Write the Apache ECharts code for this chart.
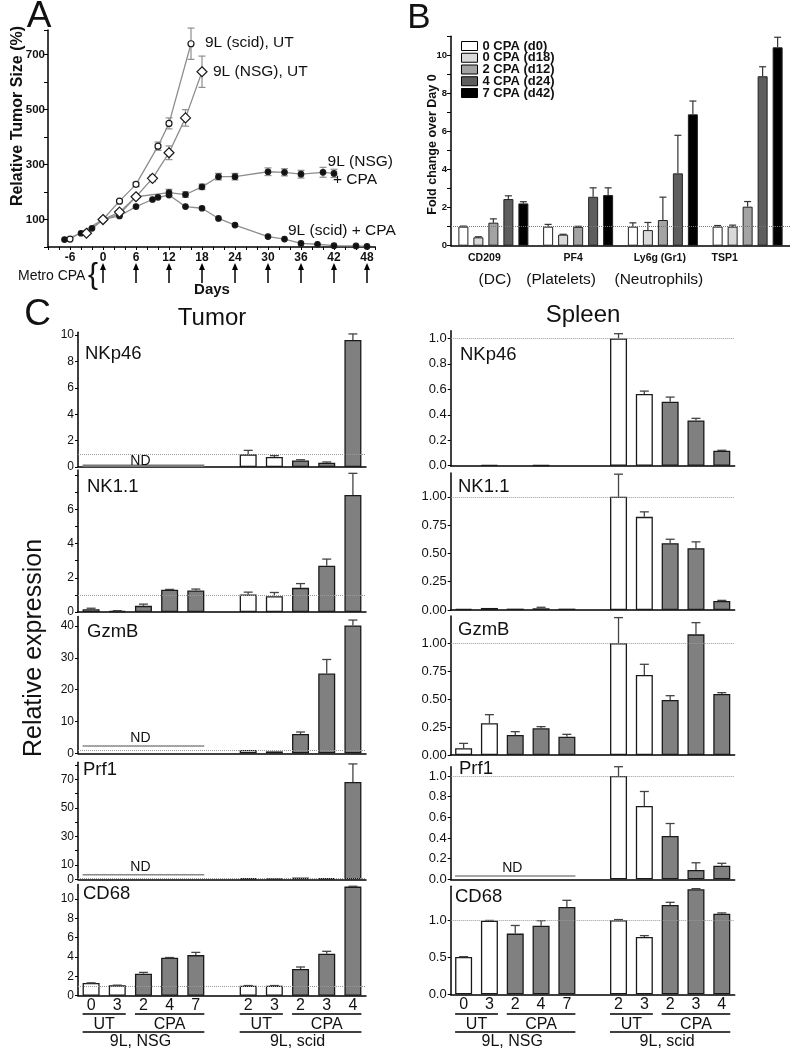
<!DOCTYPE html>
<html><head><meta charset="utf-8">
<script src="https://cdn.jsdelivr.net/npm/echarts@6/dist/echarts.min.js"></script>
<style>html,body{margin:0;padding:0;background:#fff}#c{width:790px;height:1050px}</style>
</head><body><div id="c"></div>
<script>
// ================= DATA =================
// ---- Panel A : relative tumor size (%) ----
const scidUT_days = [-6, 0, 3, 6, 10, 12, 16];
const scidUT_vals = [29, 100, 167, 228, 367, 450, 740];
const scidUT_err  = [0, 0, 5, 8, 15, 20, 57];
const nsgUT_days = [-3, 0, 3, 6, 9, 12, 15, 18];
const nsgUT_vals = [50, 100, 127, 183, 250, 343, 470, 638];
const nsgUT_err  = [0, 0, 5, 6, 12, 25, 30, 57];
const nsgCPA_days = [0, 3, 6, 12, 15, 18, 21, 24, 30, 33, 36, 40, 42];
const nsgCPA_vals = [100, 120, 183, 198, 191, 219, 256, 256, 274, 272, 265, 272, 268];
const nsgCPA_err  = [0, 0, 0, 12, 10, 10, 12, 12, 14, 13, 14, 18, 15];
const scidCPA_days = [-7, -4, -2, 0, 3, 6, 9, 10, 12, 15, 18, 21, 24, 30, 33, 36, 39, 42, 46, 48];
const scidCPA_vals = [27, 50, 68, 100, 113, 147, 173, 181, 189, 147, 141, 104, 80, 38, 29, 13, 10, 5, 4, 2];
const cpaDoseDays = [0, 6, 12, 18, 24, 30, 36, 42, 48];
const aXTickLabels = [-6, 0, 6, 12, 18, 24, 30, 36, 42, 48];
const aYTickLabels = [100, 300, 500, 700];
const aSeriesLabels = ['9L (scid), UT', '9L (NSG), UT', '9L (NSG)', '+ CPA', '9L (scid) + CPA'];

// ---- Panel B : fold change over day 0 ----
const bCategories = ['CD209', 'PF4', 'Ly6g (Gr1)', 'TSP1'];
const bSubLabels = ['(DC)', '(Platelets)', '(Neutrophils)'];
const bSeriesNames = ['0 CPA (d0)', '0 CPA (d18)', '2 CPA (d12)', '4 CPA (d24)', '7 CPA (d42)'];
const b_d0  = [1.0, 1.0, 1.0, 1.0];
const b_d0_err  = [0.03, 0.12, 0.2, 0.06];
const b_d18 = [0.44, 0.58, 0.82, 1.0];
const b_d18_err = [0.03, 0.02, 0.4, 0.08];
const b_d12 = [1.21, 0.99, 1.35, 2.05];
const b_d12_err = [0.2, 0.03, 1.2, 0.27];
const b_d24 = [2.45, 2.57, 3.8, 8.9];
const b_d24_err = [0.17, 0.47, 2.0, 0.5];
const b_d42 = [2.22, 2.66, 6.9, 10.42];
const b_d42_err = [0.09, 0.38, 0.7, 0.53];
const bYTickLabels = [0, 2, 4, 6, 8, 10];

// ---- Panel C : relative expression ----
const cCategories = ['0', '3', '2', '4', '7', '', '2', '3', '2', '3', '4'];
const cTreatment  = ['UT', 'UT', 'CPA', 'CPA', 'CPA', '', 'UT', 'UT', 'CPA', 'CPA', 'CPA'];
const cGroupLabels = ['UT', 'CPA', 'UT', 'CPA'];
const cStrainLabels = ['9L, NSG', '9L, scid'];
const cGeneNames = ['NKp46', 'NK1.1', 'GzmB', 'Prf1', 'CD68'];
const cTissues = ['Tumor', 'Spleen'];

const tumor_NKp46     = [null, null, null, null, null, null, 0.96, 0.76, 0.5, 0.33, 9.62];
const tumor_NKp46_err = [0, 0, 0, 0, 0, 0, 0.3, 0.1, 0.05, 0.05, 0.46];
const tumor_NK11      = [0.16, 0.06, 0.36, 1.3, 1.26, null, 1.02, 0.92, 1.41, 2.7, 6.84];
const tumor_NK11_err  = [0.06, 0.02, 0.1, 0.02, 0.08, 0, 0.14, 0.22, 0.25, 0.39, 1.26];
const tumor_GzmB      = [null, null, null, null, null, null, 1.05, 0.6, 6.07, 25.1, 40.2];
const tumor_GzmB_err  = [0, 0, 0, 0, 0, 0, 0, 0, 0.63, 4.4, 1.7];
const tumor_Prf1      = [null, null, null, null, null, null, 0.8, 0.5, 1.2, 0.8, 68.2];
const tumor_Prf1_err  = [0, 0, 0, 0, 0, 0, 0, 0, 0, 0, 12.6];
const tumor_CD68      = [1.31, 1.07, 2.28, 3.93, 4.2, null, 1.03, 1.03, 2.76, 4.34, 11.28];
const tumor_CD68_err  = [0.02, 0.02, 0.13, 0.02, 0.28, 0, 0.02, 0.02, 0.21, 0.25, 0.04];

const spleen_NKp46     = [null, 0.006, null, 0.003, null, null, 1.0, 0.563, 0.503, 0.356, 0.118];
const spleen_NKp46_err = [0, 0, 0, 0, 0, 0, 0.037, 0.023, 0.036, 0.016, 0.003];
const spleen_NK11      = [0.009, 0.018, 0.012, 0.015, 0.012, null, 1.0, 0.823, 0.59, 0.546, 0.08];
const spleen_NK11_err  = [0, 0, 0, 0.009, 0, 0, 0.2, 0.044, 0.035, 0.056, 0.005];
const spleen_GzmB      = [0.06, 0.284, 0.179, 0.239, 0.164, null, 1.0, 0.716, 0.493, 1.08, 0.546];
const spleen_GzmB_err  = [0.044, 0.077, 0.03, 0.015, 0.021, 0, 0.23, 0.096, 0.038, 0.105, 0.012];
const spleen_Prf1      = [null, null, null, null, null, null, 1.0, 0.71, 0.42, 0.09, 0.132];
const spleen_Prf1_err  = [0, 0, 0, 0, 0, 0, 0.09, 0.14, 0.12, 0.07, 0.023];
const spleen_CD68      = [0.504, 0.995, 0.82, 0.928, 1.18, null, 1.0, 0.775, 1.207, 1.419, 1.09];
const spleen_CD68_err  = [0.005, 0.003, 0.11, 0.067, 0.09, 0, 0.01, 0.018, 0.036, 0.009, 0.01];

// "ND" (not detected) levels, by [tissue, gene index]
const ndTumorGenes = [0, 2, 3];
const ndTumorLevels = [0.1, 2.3, 3.2];
const ndSpleenGenes = [3];
const ndSpleenLevels = [0.032];

const tumorTicks = [[0, 2, 4, 6, 8, 10], [0, 2, 4, 6], [0, 10, 20, 30, 40], [0, 10, 30, 50, 70], [0, 2, 4, 6, 8, 10]];
const spleenTicks = [[0, 0.2, 0.4, 0.6, 0.8, 1.0], [0, 0.25, 0.5, 0.75, 1.0], [0, 0.25, 0.5, 0.75, 1.0], [0, 0.2, 0.4, 0.6, 0.8, 1.0], [0, 0.5, 1.0]];

// ================= LAYOUT =================
const FONT = "'Liberation Sans', Arial, Helvetica, sans-serif";
const INK = '#111';
const tumorLayout = [
  {zero: 467, ppu: 13.2, max: 10.2, interval: 2, dec: 0},
  {zero: 612, ppu: 17.12, max: 8.3, interval: 1, dec: 0},
  {zero: 753.3, ppu: 3.18, max: 43, interval: 10, dec: 0},
  {zero: 879.3, ppu: 1.428, max: 82, interval: 10, dec: 0},
  {zero: 995.7, ppu: 9.67, max: 11.5, interval: 2, dec: 0}
];
const spleenLayout = [
  {zero: 465.7, ppu: 127.3, max: 1.06, interval: 0.2, dec: 1},
  {zero: 610, ppu: 113.2, max: 1.21, interval: 0.25, dec: 2},
  {zero: 755, ppu: 111.7, max: 1.245, interval: 0.25, dec: 2},
  {zero: 879.3, ppu: 103.3, max: 1.09, interval: 0.2, dec: 1},
  {zero: 994.3, ppu: 74, max: 1.46, interval: 0.5, dec: 1}
];
const tumorData = [[tumor_NKp46, tumor_NKp46_err], [tumor_NK11, tumor_NK11_err], [tumor_GzmB, tumor_GzmB_err], [tumor_Prf1, tumor_Prf1_err], [tumor_CD68, tumor_CD68_err]];
const spleenData = [[spleen_NKp46, spleen_NKp46_err], [spleen_NK11, spleen_NK11_err], [spleen_GzmB, spleen_GzmB_err], [spleen_Prf1, spleen_Prf1_err], [spleen_CD68, spleen_CD68_err]];

const chart = echarts.init(document.getElementById('c'), null, {renderer: 'canvas', width: 790, height: 1050});

const axisLine = {show: true, onZero: false, lineStyle: {color: '#000', width: 1.5}};
const grids = [], xAxes = [], yAxes = [], series = [];

// ---------- Panel A ----------
grids.push({left: 48, top: 30, width: 327.25, height: 217});
xAxes.push({type: 'value', gridIndex: 0, min: -10, max: 49.5, interval: 2,
  axisLine: axisLine, axisTick: {show: true, length: 3, lineStyle: {color: '#000'}},
  splitLine: {show: false},
  axisLabel: {margin: 5, fontSize: 12, fontWeight: 'bold', color: INK, fontFamily: FONT,
    formatter: v => aXTickLabels.indexOf(v) >= 0 ? String(v) : ''}});
yAxes.push({type: 'value', gridIndex: 0, min: 0, max: 790, interval: 100,
  axisLine: axisLine, axisTick: {show: true, length: 4, lineStyle: {color: '#000'}},
  splitLine: {show: false},
  axisLabel: {margin: 3, fontSize: 11.5, fontWeight: 'bold', color: INK, fontFamily: FONT,
    formatter: v => aYTickLabels.indexOf(v) >= 0 ? String(v) : ''}});

function lineSeries(name, days, vals, symbol, size, fill) {
  return {type: 'line', name: name, xAxisIndex: 0, yAxisIndex: 0,
    data: days.map((d, i) => [d, vals[i]]), symbol: symbol, symbolSize: size, showAllSymbol: true,
    lineStyle: {color: '#8e8e8e', width: 1.3}, itemStyle: {color: fill, borderColor: '#1a1a1a', borderWidth: 1.2},
    z: 3, silent: true};
}
series.push(lineSeries('a_scidCPA', scidCPA_days, scidCPA_vals, 'circle', 5.5, '#111'));
series.push(lineSeries('a_nsgCPA', nsgCPA_days, nsgCPA_vals, 'circle', 5.5, '#111'));
series.push(lineSeries('a_scidUT', scidUT_days, scidUT_vals, 'circle', 6, '#fff'));
series.push(lineSeries('a_nsgUT', nsgUT_days, nsgUT_vals, 'diamond', 10, '#fff'));

const aErr = [];
[[scidUT_days, scidUT_vals, scidUT_err], [nsgUT_days, nsgUT_vals, nsgUT_err], [nsgCPA_days, nsgCPA_vals, nsgCPA_err]]
  .forEach(([d, v, e]) => d.forEach((x, i) => { if (e[i] > 0) aErr.push([x, v[i], e[i]]); }));
series.push({type: 'custom', xAxisIndex: 0, yAxisIndex: 0, data: aErr, z: 2, silent: true,
  renderItem: function (params, api) {
    const x = api.value(0), y = api.value(1), e = api.value(2);
    const lo = api.coord([x, y - e]), hi = api.coord([x, y + e]);
    const st = {stroke: '#8e8e8e', lineWidth: 1.2};
    return {type: 'group', children: [
      {type: 'line', shape: {x1: lo[0], y1: lo[1], x2: hi[0], y2: hi[1]}, style: st},
      {type: 'line', shape: {x1: hi[0] - 3.5, y1: hi[1], x2: hi[0] + 3.5, y2: hi[1]}, style: st},
      {type: 'line', shape: {x1: lo[0] - 3.5, y1: lo[1], x2: lo[0] + 3.5, y2: lo[1]}, style: st}
    ]};
  }});

// ---------- Panel B ----------
grids.push({left: 451, top: 36.3, width: 339, height: 209.4});
xAxes.push({type: 'category', gridIndex: 1, data: bCategories, axisLine: axisLine,
  axisTick: {show: false}, axisLabel: {show: false}});
yAxes.push({type: 'value', gridIndex: 1, min: 0, max: 11, interval: 1, axisLine: axisLine,
  axisTick: {show: true, length: 4, lineStyle: {color: '#000'}}, splitLine: {show: false},
  axisLabel: {margin: 4, fontSize: 9.5, fontWeight: 'bold', color: INK, fontFamily: FONT,
    formatter: v => bYTickLabels.indexOf(v) >= 0 ? String(v) : ''}});
const bVals = [b_d0, b_d18, b_d12, b_d24, b_d42];
const bErrs = [b_d0_err, b_d18_err, b_d12_err, b_d24_err, b_d42_err];
const bColors = ['#ffffff', '#d9d9d9', '#a3a3a3', '#5e5e5e', '#000000'];
const B_BAR = 10, B_STEP = 15;
bVals.forEach((vals, s) => {
  const sObj = {type: 'bar', name: bSeriesNames[s], xAxisIndex: 1, yAxisIndex: 1, data: vals,
    barWidth: B_BAR, barGap: '50%', itemStyle: {color: bColors[s], borderColor: '#222', borderWidth: 1}, silent: true};
  if (s === 0) sObj.markLine = {silent: true, symbol: 'none', label: {show: false}, z: 5,
    lineStyle: {type: 'dotted', color: '#777', width: 1}, data: [{yAxis: 1}]};
  series.push(sObj);
});
const bErrData = [];
bVals.forEach((vals, s) => vals.forEach((v, c) => bErrData.push([c, v, bErrs[s][c], s])));
series.push({type: 'custom', xAxisIndex: 1, yAxisIndex: 1, data: bErrData, z: 4, silent: true,
  renderItem: function (params, api) {
    const c = api.value(0), v = api.value(1), e = api.value(2), s = api.value(3);
    const off = (s - 2) * B_STEP;
    const p0 = api.coord([c, v]), p1 = api.coord([c, v + e]);
    const x = p0[0] + off;
    const st = {stroke: '#333', lineWidth: 1.2};
    return {type: 'group', children: [
      {type: 'line', shape: {x1: x, y1: p0[1], x2: x, y2: p1[1]}, style: st},
      {type: 'line', shape: {x1: x - 3.5, y1: p1[1], x2: x + 3.5, y2: p1[1]}, style: st}
    ]};
  }});

// ---------- Panel C ----------
function addCPanel(layouts, dataList, ticksList, left, width, isTumor) {
  layouts.forEach((L, r) => {
    const gi = grids.length;
    const h = L.max * L.ppu;
    grids.push({left: left, top: L.zero - h, width: width, height: h});
    const last = r === layouts.length - 1;
    xAxes.push({type: 'category', gridIndex: gi, data: cCategories, axisLine: axisLine,
      axisTick: {show: false},
      axisLabel: {show: last, margin: 2, fontSize: 16, color: INK, fontFamily: FONT, interval: 0}});
    const ticks = ticksList[r];
    yAxes.push({type: 'value', gridIndex: gi, min: 0, max: L.max, interval: L.interval, axisLine: axisLine,
      axisTick: {show: true, length: 3, lineStyle: {color: '#000'}}, splitLine: {show: false},
      axisLabel: {margin: 4, fontSize: isTumor ? 12 : 13, color: INK, fontFamily: FONT, showMaxLabel: false,
        formatter: v => ticks.some(t => Math.abs(t - v) < 1e-6) ? v.toFixed(L.dec) : ''}});
    const [vals, errs] = dataList[r];
    series.push({type: 'bar', xAxisIndex: gi, yAxisIndex: gi, barWidth: 17, silent: true,
      data: vals.map((v, i) => v == null ? '-' : {value: v,
        itemStyle: {color: cTreatment[i] === 'UT' ? '#ffffff' : '#808080'}}),
      itemStyle: {borderColor: '#1a1a1a', borderWidth: 1.3},
      markLine: {silent: true, symbol: 'none', label: {show: false}, z: 5,
        lineStyle: {type: 'dotted', color: '#999', width: 1}, data: [{yAxis: 1}]}});
    const ed = [];
    vals.forEach((v, i) => { if (v != null && errs[i] > 0) ed.push([i, v, errs[i]]); });
    series.push({type: 'custom', xAxisIndex: gi, yAxisIndex: gi, data: ed, z: 4, silent: true,
      renderItem: function (params, api) {
        const c = api.value(0), v = api.value(1), e = api.value(2);
        const p0 = api.coord([c, v]), p1 = api.coord([c, v + e]);
        const st = {stroke: '#444', lineWidth: 1.3};
        return {type: 'group', children: [
          {type: 'line', shape: {x1: p0[0], y1: p0[1], x2: p0[0], y2: p1[1]}, style: st},
          {type: 'line', shape: {x1: p0[0] - 4.5, y1: p1[1], x2: p0[0] + 4.5, y2: p1[1]}, style: st}
        ]};
      }});
  });
}
const TUMOR_AX0 = grids.length;
addCPanel(tumorLayout, tumorData, tumorTicks, 78, 288, true);
const SPLEEN_AX0 = grids.length;
addCPanel(spleenLayout, spleenData, spleenTicks, 450.7, 284, false);

chart.setOption({
  animation: false,
  backgroundColor: '#fff',
  textStyle: {fontFamily: FONT},
  grid: grids, xAxis: xAxes, yAxis: yAxes,
  legend: {data: bSeriesNames, orient: 'vertical', left: 461, top: 39.5, padding: 0, itemWidth: 16, itemHeight: 9,
    itemGap: -1.25, icon: 'rect', selectedMode: false,
    itemStyle: {borderColor: '#000', borderWidth: 1},
    textStyle: {fontSize: 13, fontWeight: 'bold', color: INK, fontFamily: FONT}},
  series: series
});

// ================= ANNOTATIONS =================
const G = [];
function T(x, y, text, size, o) {
  o = o || {};
  return {type: 'text', x: x, y: y, rotation: o.rot || 0, z: 100, silent: true,
    style: {text: text, fill: o.color || INK, fontSize: size, fontFamily: FONT,
      fontWeight: o.bold ? 'bold' : 'normal', align: o.align || 'center', verticalAlign: 'middle'}};
}
function Ln(x1, y1, x2, y2, color, w) {
  return {type: 'line', z: 100, silent: true, shape: {x1: x1, y1: y1, x2: x2, y2: y2}, style: {stroke: color, lineWidth: w}};
}
const px = (ai, v) => chart.convertToPixel({xAxisIndex: ai}, v);
const py = (ai, v) => chart.convertToPixel({yAxisIndex: ai}, v);

// panel letters
G.push(T(39, 17, 'A', 37));
G.push(T(419, 18, 'B', 35));
G.push(T(37.5, 315, 'C', 37));

// Panel A texts
G.push(T(17.5, 116, 'Relative Tumor Size (%)', 16, {bold: true, rot: Math.PI / 2}));
G.push(T(212, 290, 'Days', 15, {bold: true}));
G.push(T(205, 43, aSeriesLabels[0], 15.5, {align: 'left'}));
G.push(T(213, 72, aSeriesLabels[1], 15.5, {align: 'left'}));
G.push(T(393, 162, aSeriesLabels[2], 15.5, {align: 'right'}));
G.push(T(333, 180, aSeriesLabels[3], 15.5, {align: 'left'}));
G.push(T(288, 231, aSeriesLabels[4], 15.5, {align: 'left'}));
G.push(T(18, 276, 'Metro CPA', 14, {align: 'left'}));
G.push(T(93, 276, '{', 30));
cpaDoseDays.forEach(d => {
  const x = px(0, d);
  G.push(Ln(x, 283, x, 268, '#000', 1.5));
  G.push({type: 'polygon', z: 100, silent: true, shape: {points: [[x - 3, 270], [x + 3, 270], [x, 263]]}, style: {fill: '#000'}});
});

// Panel B texts
G.push(T(432.5, 144.5, 'Fold change over Day 0', 12.5, {bold: true, rot: Math.PI / 2}));
const bLabelDx = [-9, -5, -3, -23];
const bSubDx = [1.6, -17, -4];
bCategories.forEach((c, i) => G.push(T(px(1, i) + bLabelDx[i], 258, c, 10.5, {bold: true})));
bSubLabels.forEach((c, i) => G.push(T(px(1, i) + bSubDx[i], 279.5, c, 15.5)));

// Panel C texts
G.push(T(212, 318, cTissues[0], 24));
G.push(T(583, 315, cTissues[1], 24));
G.push(T(34, 648, 'Relative expression', 25, {rot: Math.PI / 2}));
const tumorNameXY = [[85, 354], [87, 487], [87, 632], [83, 770], [83, 893.5]];
const spleenNameXY = [[460, 354.5], [458, 487], [458, 630], [459, 769], [455, 896.5]];
cGeneNames.forEach((g, r) => {
  G.push(T(tumorNameXY[r][0], tumorNameXY[r][1], g, 18.5, {align: 'left'}));
  G.push(T(spleenNameXY[r][0], spleenNameXY[r][1], g, 18.5, {align: 'left'}));
});
// ND lines
function ndLine(axIdx, level, thick) {
  const half = 8.5;
  const x1 = px(axIdx, 0) - half, x2 = px(axIdx, 4) + half;
  const y = py(axIdx, level);
  G.push(Ln(x1, y, x2, y, thick ? '#777' : '#888', thick ? 2.5 : 1.3));
  G.push(T(px(axIdx, 2) - 3, y - (thick ? 5 : 7.5), 'ND', 14));
}
ndTumorGenes.forEach((g, k) => ndLine(TUMOR_AX0 + g, ndTumorLevels[k], g === 0));
ndSpleenGenes.forEach((g, k) => ndLine(SPLEEN_AX0 + g, ndSpleenLevels[k], false));
// group brackets under last row
[TUMOR_AX0 + 4, SPLEEN_AX0 + 4].forEach(ai => {
  const L = i => px(ai, i) - 8.5, R = i => px(ai, i) + 8.5, C = i => px(ai, i);
  const groups = [[0, 1, 0], [2, 4, 1], [6, 7, 2], [8, 10, 3]];
  groups.forEach(([a, b, k]) => {
    G.push(Ln(L(a), 1014, R(b), 1014, '#000', 1.6));
    G.push(T((C(a) + C(b)) / 2, 1025, cGroupLabels[k], 16));
  });
  [[0, 4, 0], [6, 10, 1]].forEach(([a, b, k]) => {
    G.push(Ln(L(a), 1032, R(b), 1032, '#000', 1.6));
    G.push(T((C(a) + C(b)) / 2 - 3, 1042, cStrainLabels[k], 16));
  });
});

chart.setOption({graphic: G});
</script>
</body></html>
